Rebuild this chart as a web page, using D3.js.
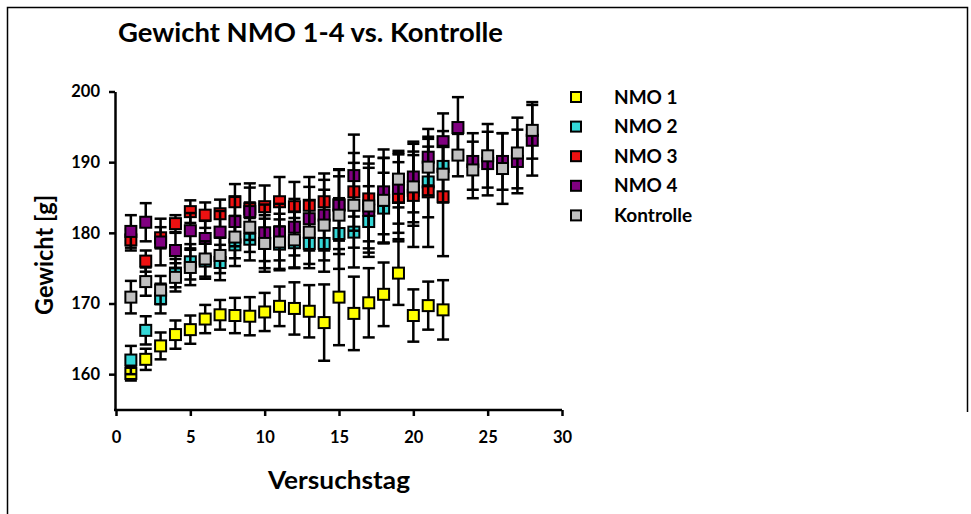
<!DOCTYPE html>
<html>
<head>
<meta charset="utf-8">
<script src="https://cdn.jsdelivr.net/npm/d3@7"></script>
<style>
  html, body { margin: 0; padding: 0; background: #fff; }
  svg { display: block; }
  text { font-family: Lato, "Open Sans", sans-serif; font-weight: bold; fill: #000; }
</style>
</head>
<body>
<svg id="chart" width="971" height="514"></svg>
<script>
// Versuchstage (x values)
const days = [1,2,3,4,5,6,7,8,9,10,11,12,13,14,15,16,17,18,19,20,21,22,23,24,25,26,27,28];

// Mittelwerte und Standardabweichungen je Gruppe (g)
const nmo1    = [160.1,162.1,164.0,165.6,166.3,167.8,168.4,168.3,168.2,168.8,169.6,169.3,168.9,167.3,170.9,168.6,170.1,171.3,174.3,168.3,169.7,169.1];
const nmo1Err = [1.0,1.5,1.9,2.0,2.0,2.0,2.1,2.5,2.7,2.7,2.8,3.7,3.7,5.4,6.8,5.2,4.9,4.5,4.5,3.7,3.4,4.2];

const nmo2    = [162.0,166.2,170.7,174.3,175.9,176.0,175.8,178.3,179.1,178.5,178.4,178.6,178.5,178.5,179.9,180.1,181.6,183.5,185.0,186.0,187.2,189.4];
const nmo2Err = [2.0,2.0,2.1,2.0,2.5,2.5,2.5,3.0,3.0,3.5,3.5,3.5,3.5,4.0,5.0,5.0,5.0,5.0,5.0,5.0,5.0,5.0];

const nmo3    = [179.0,176.0,179.3,181.3,183.0,182.5,182.7,184.4,183.4,183.7,184.4,183.7,183.9,184.4,184.0,185.8,184.8,184.6,185.1,185.3,185.8,185.1];
const nmo3Err = [1.5,1.5,1.5,1.2,1.6,1.8,2.0,2.5,3.0,3.0,3.5,3.5,4.0,4.0,5.0,5.5,6.0,6.0,6.0,7.3,7.8,8.4];

const nmo4    = [180.2,181.5,178.7,177.5,180.3,179.2,180.1,181.6,183.0,180.0,180.1,180.8,182.0,182.5,183.9,188.1,183.2,185.8,186.3,187.9,190.7,192.9,194.9,190.1,189.8,190.1,190.1,193.1];
const nmo4Err = [2.3,2.7,3.3,2.5,2.5,2.5,3.0,3.5,4.0,4.0,4.0,4.0,4.5,5.0,5.0,5.8,6.0,6.0,5.0,5.0,4.0,4.0,4.3,4.0,4.5,4.0,4.5,5.0];

const kontrolle    = [170.9,173.1,171.9,173.7,175.1,176.3,176.8,179.4,180.8,178.5,178.7,179.0,180.1,181.1,182.5,183.9,183.8,184.6,187.6,186.5,189.3,188.3,191.0,188.9,190.9,189.1,191.3,194.5];
const kontrolleErr = [2.3,2.0,2.0,2.0,2.5,2.5,2.5,3.0,3.5,4.0,4.0,4.0,4.5,5.0,5.5,6.0,6.0,6.0,4.0,5.0,4.0,4.0,3.0,4.0,4.5,5.0,5.0,4.0];

const seriesNames  = ["NMO 1", "NMO 2", "NMO 3", "NMO 4", "Kontrolle"];
const seriesColors = ["#ffff00", "#33d6d6", "#ee1111", "#800080", "#c0c0c0"];
const xTicks = [0, 5, 10, 15, 20, 25, 30];
const yTicks = [160, 170, 180, 190, 200];

const groups = [
  { name: seriesNames[0], color: seriesColors[0], mean: nmo1, err: nmo1Err },
  { name: seriesNames[1], color: seriesColors[1], mean: nmo2, err: nmo2Err },
  { name: seriesNames[2], color: seriesColors[2], mean: nmo3, err: nmo3Err },
  { name: seriesNames[3], color: seriesColors[3], mean: nmo4, err: nmo4Err },
  { name: seriesNames[4], color: seriesColors[4], mean: kontrolle, err: kontrolleErr }
];

const svg = d3.select("#chart");

// Rahmen
svg.append("path")
  .attr("d", "M7.5,514 L7.5,7.5 L967.5,7.5 L967.5,412")
  .attr("fill", "none").attr("stroke", "#000").attr("stroke-width", 1.5);

const x = d3.scaleLinear().domain([0, 30]).range([116, 562]);
const y = d3.scaleLinear().domain([155, 200]).range([409.5, 91.5]);

// Achsen
const xAxis = svg.append("g")
  .attr("transform", "translate(0,410)")
  .call(d3.axisBottom(x).tickValues(xTicks).tickSize(6).tickSizeOuter(0).tickPadding(15));
const yAxis = svg.append("g")
  .attr("transform", "translate(115,0)")
  .call(d3.axisLeft(y).tickValues(yTicks).tickSize(6).tickSizeOuter(0).tickPadding(9));

[xAxis, yAxis].forEach(ax => {
  ax.select(".domain").attr("stroke", "#000").attr("stroke-width", 2.5);
  ax.selectAll(".tick line").attr("stroke", "#000").attr("stroke-width", 2.5);
  ax.selectAll(".tick text")
    .attr("font-family", "Lato, 'Open Sans', sans-serif")
    .attr("font-weight", "bold")
    .attr("font-size", 16.5).attr("fill", "#000");
});
xAxis.select(".domain").attr("d", "M114,0H" + x(30));

// Gruppen: erst Fehlerbalken, dann Marker
const capHalf = 6;
groups.forEach(g => {
  const pts = g.mean.map((m, i) => ({ d: days[i], m: m, e: g.err[i] }));
  const layer = svg.append("g");
  const eb = layer.append("g").attr("stroke", "#000").attr("stroke-width", 2.5).attr("fill", "none");
  eb.selectAll("line.v").data(pts).join("line").attr("class", "v")
    .attr("x1", p => x(p.d)).attr("x2", p => x(p.d))
    .attr("y1", p => y(p.m - p.e)).attr("y2", p => y(p.m + p.e));
  eb.selectAll("line.t").data(pts).join("line").attr("class", "t")
    .attr("x1", p => x(p.d) - capHalf).attr("x2", p => x(p.d) + capHalf)
    .attr("y1", p => y(p.m + p.e)).attr("y2", p => y(p.m + p.e));
  eb.selectAll("line.b").data(pts).join("line").attr("class", "b")
    .attr("x1", p => x(p.d) - capHalf).attr("x2", p => x(p.d) + capHalf)
    .attr("y1", p => y(p.m - p.e)).attr("y2", p => y(p.m - p.e));
  layer.append("g").selectAll("rect").data(pts).join("rect")
    .attr("x", p => x(p.d) - 5.5).attr("y", p => y(p.m) - 5.5)
    .attr("width", 11).attr("height", 11)
    .attr("fill", g.color).attr("stroke", "#000").attr("stroke-width", 2);
});

// Titel und Achsenbeschriftungen
svg.append("text").attr("x", 118).attr("y", 42)
  .attr("font-size", 26).attr("textLength", 385).attr("lengthAdjust", "spacingAndGlyphs")
  .text("Gewicht NMO 1-4 vs. Kontrolle");
svg.append("text").attr("transform", "translate(53,255) rotate(-90)")
  .attr("text-anchor", "middle").attr("font-size", 25)
  .attr("textLength", 120).attr("lengthAdjust", "spacingAndGlyphs")
  .text("Gewicht [g]");
svg.append("text").attr("x", 339).attr("y", 489)
  .attr("text-anchor", "middle").attr("font-size", 25)
  .attr("textLength", 142).attr("lengthAdjust", "spacingAndGlyphs")
  .text("Versuchstag");

// Legende
const legend = svg.append("g");
groups.forEach((g, i) => {
  const cy = 97 + i * 29.6;
  legend.append("rect").attr("x", 571).attr("y", cy - 5).attr("width", 10).attr("height", 10)
    .attr("fill", g.color).attr("stroke", "#000").attr("stroke-width", 2);
  legend.append("text").attr("x", 614).attr("y", cy).attr("dy", "0.35em")
    .attr("font-size", 19).text(g.name);
});
</script>
</body>
</html>
